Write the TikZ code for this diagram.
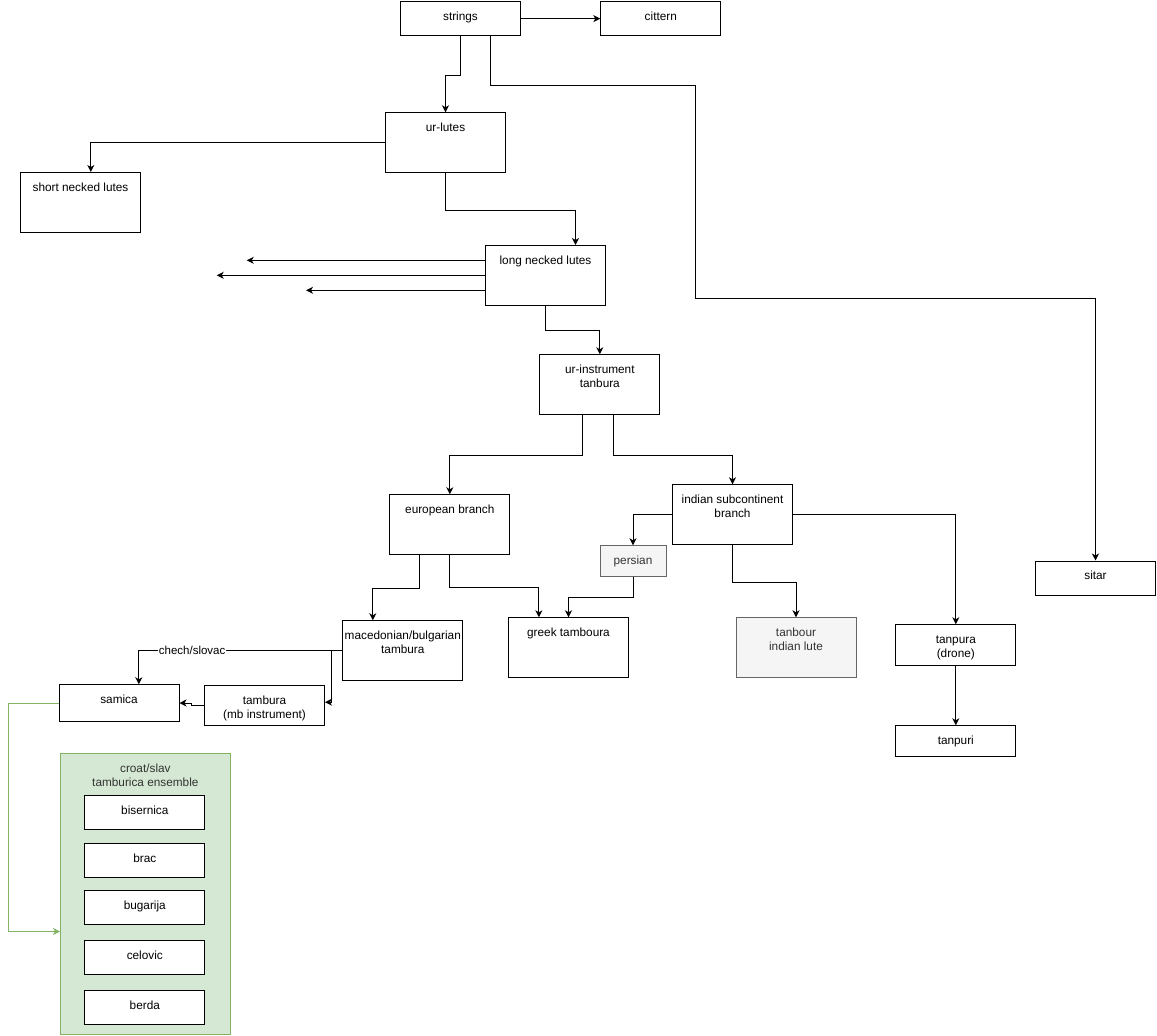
\documentclass[tikz,border=0pt]{standalone}
\usepackage{fontspec}
\setmainfont{Liberation Sans}
\usetikzlibrary{positioning}
\usetikzlibrary{arrows.meta}
\definecolor{greyfill}{HTML}{F5F5F5}
\definecolor{greyline}{HTML}{666666}
\definecolor{greytext}{HTML}{333333}
\definecolor{groupfill}{HTML}{D5E8D4}
\definecolor{groupline}{HTML}{82B366}
\tikzset{
  instrument/.style={rectangle,draw=black,line width=1pt,fill=white,
                     minimum width=120pt,inner xsep=0pt,inner ysep=0pt,
                     align=center,text height=18.7pt,text depth=41.3pt,
                     font=\fontsize{11.8}{14.2}\selectfont},
  shortbox/.style={instrument,text depth=#1},
  pair/.style={text height=32.9pt,text depth=#1},
  pair/.default=27.1pt,
  variant/.style={instrument,draw=greyline,fill=greyfill,text=greytext},
  ensemble/.style={instrument,draw=groupline,fill=groupfill,text=greytext},
  lineage/.style={-{Stealth[length=7pt,width=7pt,inset=2pt]},line width=1pt},
  grouplink/.style={lineage,draw=groupline},
  branchlabel/.style={fill=white,inner sep=1pt,font=\fontsize{11.5}{14}\selectfont},
}
\begin{document}
\begin{tikzpicture}[x=1pt,y=-1pt]
  \useasboundingbox (0,0) rectangle (1157,1036);
  % instruments
  \node[shortbox=15pt,anchor=north west] (strings) at (400,1.3)      {strings};
  \node[shortbox=15pt,anchor=north west] (cittern) at (600.3,1.3)    {cittern};
  \node[instrument,anchor=north west] (urlutes)    at (385,112.3)    {ur-lutes};
  \node[instrument,anchor=north west] (shortneck)  at (20,172)       {short necked lutes};
  \node[instrument,anchor=north west] (longneck)   at (485,245)      {long necked lutes};
  \node[instrument,pair,anchor=north west] (urinst) at (539.3,354.3) {ur-instrument\\tanbura};
  \node[instrument,anchor=north west] (european)   at (389.3,494.3)  {european branch};
  \node[instrument,pair,anchor=north west] (indian) at (672,484.3)   {indian subcontinent\\branch};
  \node[variant,minimum width=66pt,text depth=11.6pt,anchor=north west] (persian) at (599.5,545.3) {persian};
  \node[shortbox=15.8pt,anchor=north west] (sitar) at (1035,560.5)   {sitar};
  \node[instrument,pair,anchor=north west] (macedonian) at (342.3,620.3) {macedonian/bulgarian\\tambura};
  \node[instrument,anchor=north west] (greek)      at (508,617.3)    {greek tamboura};
  \node[variant,pair,anchor=north west] (tanbour)  at (735.5,617.3)  {tanbour\\indian lute};
  \node[instrument,pair=8.1pt,anchor=north west] (tanpura) at (895.3,624.3) {tanpura\\(drone)};
  \node[shortbox=12.3pt,anchor=north west] (tanpuri) at (895.3,725.3) {tanpuri};
  \node[shortbox=17.7pt,anchor=north west] (samica)  at (58.5,684.3)  {samica};
  \node[instrument,pair=7.1pt,anchor=north west] (tambura) at (204,685.3) {tambura\\(mb instrument)};

  % croat/slav ensemble
  \node[ensemble,pair=248.1pt,minimum width=169.7pt,anchor=north west] (ensemble) at (60,753.3)
        {croat/slav\\tamburica ensemble};
  \node[shortbox=15.3pt,anchor=north west] (bisernica) at (84.3,795.3) {bisernica};
  \node[shortbox=15.3pt] (brac)     [below=13pt of bisernica] {brac};
  \node[shortbox=15.3pt] (bugarija) [below=12pt of brac]      {bugarija};
  \node[shortbox=15.3pt] (celovic)  [below=15pt of bugarija]  {celovic};
  \node[shortbox=15.3pt] (berda)    [below=15pt of celovic]   {berda};

  % loose ends
  \coordinate (lostA) at (246.7,260.3);
  \coordinate (lostB) at (216.7,275.3);
  \coordinate (lostC) at (306,290.3);

  % lineage
  \draw[lineage] (strings) -- (cittern);
  \draw[lineage] (strings.south) -- ++(0,39.3) -| (urlutes.north);
  \draw[lineage] ([xshift=30pt]strings.south) |- (695.3,85.3) -- (695.3,298) -| (sitar.north);
  \draw[lineage] (urlutes.west) -| ([xshift=10.3pt]shortneck.north);
  \draw[lineage] (urlutes.south) -- ++(0,36.7) -| ([xshift=30pt]longneck.north);
  \draw[lineage] (longneck.west |- lostA) -- (lostA);
  \draw[lineage] (longneck.west |- lostB) -- (lostB);
  \draw[lineage] (longneck.west |- lostC) -- (lostC);
  \draw[lineage] (longneck.south) -- ++(0,24.7) -| (urinst.north);
  \draw[lineage] ([xshift=-17pt]urinst.south) -- ++(0,39.7) -| (european.north);
  \draw[lineage] ([xshift=13.4pt]urinst.south) -- ++(0,39.7) -| (indian.north);
  \draw[lineage] (indian.west) -| (persian.north);
  \draw[lineage] (indian.south) -- ++(0,37) -| (tanbour.north);
  \draw[lineage] (indian.east) -| (tanpura.north);
  \draw[lineage] (tanpura) -- (tanpuri);
  \draw[lineage] (persian.south) -- ++(0,21.3) -| (greek.north);
  \draw[lineage] (european.south) -- ++(0,31.7) -| ([xshift=-29.6pt]greek.north);
  \draw[lineage] ([xshift=-30pt]european.south) -- ++(0,33) -| ([xshift=-30pt]macedonian.north);
  \draw[lineage] (macedonian.west) -| node[branchlabel,pos=0.369] (chech) {chech/slovac}
        ([xshift=19.8pt]samica.north);
  \draw[lineage] (macedonian.west) -- ++(-11.3,0) |- ([yshift=3.6pt]tambura.east);
  \draw[lineage] (tambura.west) -- ++(-12.3,0) |- (samica.east);
  \draw[grouplink] (samica.west) -- ++(-50.2,0) |- ([yshift=-37.2pt]ensemble.west);
\end{tikzpicture}
\end{document}
